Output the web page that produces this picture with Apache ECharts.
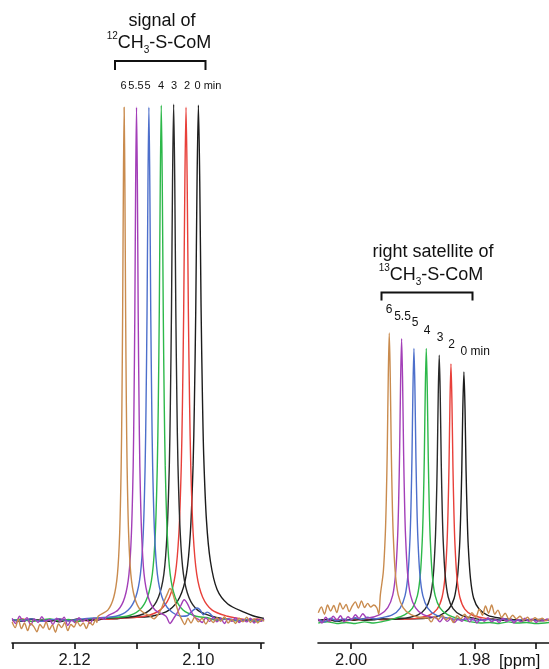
<!DOCTYPE html>
<html>
<head>
<meta charset="utf-8">
<script src="https://cdn.jsdelivr.net/npm/echarts@6/dist/echarts.min.js"></script>
<style>
html,body{margin:0;padding:0;background:#fff;}
#c{width:549px;height:669px;}
</style>
</head>
<body>
<div id="c"></div>
<script>
// ---- tick labels ----
const leftTicks = [2.13, 2.12, 2.11, 2.10, 2.09];
const leftTickLabels = [2.12, 2.10];
const rightTicks = [2.00, 1.99, 1.98, 1.97];
const rightTickLabels = [2.00, 1.98];
const timeLabels = ['6', '5.5', '5', '4', '3', '2', '0 min'];

// ---- left panel: 12CH3-S-CoM signal, [ppm, intensity] ----
const L_0min = [[2.1301,0.2],[2.1285,-0.2],[2.1270,0.3],[2.1255,-0.1],[2.1240,0.2],[2.1225,-0.3],[2.1210,0.1],[2.1195,-0.2],[2.1180,0.3],[2.1165,0.0],[2.1150,0.4],[2.1135,0.3],[2.1120,0.5],[2.1100,0.6],
 [2.10756,0.8],[2.10475,2.0],[2.10302,4.5],[2.10194,9.0],[2.1013,17.0],[2.10086,30.1],[2.10065,42.1],[2.10043,60.1],[2.10022,85.2],[2.1000,100.2],
 [2.09978,85.2],[2.09957,61.0],[2.09935,43.5],[2.09914,32.0],[2.0987,19.5],[2.09806,11.5],[2.09698,6.0],[2.09525,3.2],[2.09244,1.5],[2.0912,0.9],[2.0903,0.6],[2.0894,0.4]];
const L_2min = [[2.1301,-0.1],[2.1285,0.3],[2.1270,-0.2],[2.1255,0.2],[2.1240,-0.1],[2.1225,0.3],[2.1210,0.0],[2.1195,0.2],[2.1180,-0.1],[2.1165,0.3],[2.1150,0.2],[2.1130,0.4],
 [2.10872,0.8],[2.10622,2.0],[2.10469,4.5],[2.10373,9.0],[2.10315,17.0],[2.10277,29.9],[2.10258,41.9],[2.10238,59.9],[2.10219,84.8],[2.1020,99.8],
 [2.10181,84.8],[2.10162,59.9],[2.10142,41.9],[2.10123,29.9],[2.10085,17.0],[2.10027,9.0],[2.09931,4.5],[2.09778,2.0],[2.09528,0.8],[2.0935,0.4],[2.0920,0.1],[2.0905,0.3],[2.0894,0.0]];
const L_3min = [[2.1301,0.1],[2.1285,-0.2],[2.1270,0.2],[2.1255,0.0],[2.1240,-0.2],[2.1225,0.2],[2.1210,-0.1],[2.1195,0.3],[2.1180,0.0],[2.1165,0.2],[2.1150,0.4],
 [2.11016,0.8],[2.10787,2.0],[2.10646,4.5],[2.10558,9.0],[2.10506,17.1],[2.1047,30.1],[2.10453,42.2],[2.10435,60.2],[2.10418,85.3],[2.1040,100.4],
 [2.10382,85.3],[2.10365,60.2],[2.10347,42.2],[2.1033,30.1],[2.10294,17.1],[2.10242,9.0],[2.10154,4.5],[2.10013,2.0],[2.09784,0.8],[2.0960,0.3],[2.0945,0.1],[2.0930,-0.1],[2.0915,0.2],[2.0900,0.0],[2.0894,0.1]];
const L_4min = [[2.1301,0.0],[2.1285,0.2],[2.1270,-0.2],[2.1255,0.1],[2.1240,0.3],[2.1225,-0.1],[2.1210,0.2],[2.1195,-0.2],[2.1180,0.3],[2.1165,0.4],
 [2.1116,0.8],[2.10952,2.0],[2.10824,4.5],[2.10744,9.0],[2.10696,17.0],[2.10664,30.1],[2.10648,42.1],[2.10632,60.1],[2.10616,85.2],[2.1060,100.2],
 [2.10584,85.2],[2.10568,60.1],[2.10552,42.1],[2.10536,30.1],[2.10504,17.0],[2.10456,9.0],[2.10376,4.5],[2.10248,2.0],[2.1004,0.8],[2.0985,0.5],[2.0970,0.0],[2.0955,0.3],[2.0940,-0.1],[2.0925,0.2],[2.0910,-0.2],[2.0894,0.1]];
const L_5min = [[2.1301,0.2],[2.1285,-0.1],[2.1270,0.3],[2.1255,-0.2],[2.1240,0.1],[2.1225,0.3],[2.1210,-0.1],[2.1195,0.2],[2.1180,0.4],
 [2.11332,0.8],[2.11134,2.0],[2.11013,4.5],[2.10937,9.0],[2.10891,17.0],[2.10861,29.9],[2.10846,41.9],[2.1083,59.9],[2.10815,84.8],[2.1080,99.8],
 [2.10785,84.8],[2.1077,59.9],[2.10754,41.9],[2.10739,29.9],[2.10709,17.0],[2.10663,9.0],[2.10587,4.5],[2.10466,2.0],[2.10268,0.8],[2.1018,0.9],[2.1012,1.6],[2.1006,2.2],[2.1002,2.4],[2.0997,2.0],[2.0992,1.1],[2.0986,1.6],[2.0981,1.3],[2.0975,0.5],[2.0965,0.1],[2.0950,0.3],[2.0935,-0.1],[2.0920,0.2],[2.0905,0.0],[2.0894,0.2]];
const L_55min = [[2.1301,0.4],[2.1295,-0.6],[2.1289,0.8],[2.1283,-0.2],[2.1277,0.5],[2.1271,-0.9],[2.1265,0.3],[2.1259,-0.4],[2.1253,0.7],[2.1247,-0.3],[2.1241,0.2],[2.1235,-0.8],[2.1229,0.4],[2.1223,-0.2],[2.1217,0.6],[2.1211,-1.0],[2.1205,0.1],[2.1199,-0.5],[2.1193,0.5],[2.1187,-0.2],[2.1181,0.3],[2.1175,-0.6],[2.1169,0.4],[2.1163,0.1],[2.1157,0.5],[2.1152,0.2],
 [2.11476,0.8],[2.11299,2.0],[2.1119,4.5],[2.11122,9.0],[2.11082,17.0],[2.11054,29.9],[2.11041,41.9],[2.11027,59.9],[2.11014,84.8],[2.1100,99.8],
 [2.10986,84.8],[2.10973,59.9],[2.10959,41.9],[2.10946,29.9],[2.10918,17.0],[2.10878,9.0],[2.1081,4.5],[2.10701,2.0],[2.10524,0.8],[2.1046,-0.6],[2.1040,0.4],[2.1034,1.5],[2.1028,3.0],[2.1023,4.0],[2.1018,3.3],[2.1012,1.8],[2.1006,0.6],[2.1000,0.2],[2.0994,-0.4],[2.0988,0.5],[2.0982,-0.2],[2.0976,0.6],[2.0970,-0.3],[2.0964,0.4],[2.0958,-0.6],[2.0952,0.3],[2.0946,-0.2],[2.0940,0.5],[2.0934,-0.4],[2.0928,0.2],[2.0922,-0.3],[2.0916,0.4],[2.0910,-0.5],[2.0904,0.2],[2.0898,-0.2],[2.0894,0.3]];
const L_6min = [[2.1301,-0.3],[2.1296,-1.4],[2.1291,0.2],[2.1286,-1.6],[2.1281,-0.5],[2.1276,-2.0],[2.1271,-0.6],[2.1266,-1.2],[2.1261,-2.2],[2.1256,-0.8],[2.1251,-1.5],[2.1246,-0.3],[2.1241,-1.8],[2.1236,-0.9],[2.1231,-2.3],[2.1226,-0.7],[2.1221,-1.4],[2.1216,-0.4],[2.1211,-2.0],[2.1206,-0.8],[2.1201,-1.3],[2.1196,-0.2],[2.1191,-1.1],[2.1186,-0.5],[2.1181,-1.6],[2.1176,-0.3],[2.1171,-0.9],[2.1166,0.2],[2.1164,-0.4],
 [2.11620,0.8],[2.11464,2.0],[2.11368,4.5],[2.11308,9.0],[2.11272,17.0],[2.11248,29.9],[2.11236,41.9],[2.11224,59.9],[2.11212,84.8],[2.1120,99.8],
 [2.11188,84.8],[2.11176,59.9],[2.11164,41.9],[2.11152,29.9],[2.11128,17.0],[2.11092,9.0],[2.11032,4.5],[2.10936,2.0],[2.1078,0.8],[2.1072,0.3],[2.1066,1.0],[2.1060,2.2],[2.1055,3.8],[2.1050,5.2],[2.1046,6.2],[2.1042,5.4],[2.1037,3.4],[2.1032,1.5],[2.1027,0.2],[2.1022,-0.8],[2.1017,0.4],[2.1012,-0.5],[2.1006,0.6],[2.1000,-0.3],[2.0994,0.4],[2.0988,-0.7],[2.0982,0.3],[2.0976,-0.4],[2.0970,0.5],[2.0964,-0.2],[2.0958,0.7],[2.0952,-0.5],[2.0946,0.2],[2.0940,-0.6],[2.0934,0.4],[2.0928,-0.3],[2.0922,0.6],[2.0916,-0.4],[2.0910,0.3],[2.0904,-0.5],[2.0898,0.2],[2.0894,-0.2]];

// ---- right panel: right 13C satellite, [ppm, intensity] ----
const R_0min = [[2.0053,0.0],[2.0040,0.2],[2.0025,-0.1],[2.0010,0.2],[1.9995,0.0],[1.9980,0.3],[1.9965,0.1],[1.9950,0.3],[1.9935,0.2],[1.9920,0.4],[1.9905,0.3],
 [1.98786,0.39],[1.98557,0.97],[1.98416,2.2],[1.98328,4.3],[1.98276,8.2],[1.9824,14.5],[1.98223,20.3],[1.98205,29.0],[1.98188,41.1],[1.9817,48.3],
 [1.98152,41.1],[1.98135,29.0],[1.98117,20.3],[1.981,14.5],[1.98064,8.2],[1.98012,4.3],[1.97924,2.2],[1.97783,0.97],[1.97554,0.39],[1.9740,0.2],[1.9725,0.0],[1.9710,0.2],[1.9695,-0.1],[1.9679,0.1]];
const R_2min = [[2.0053,0.1],[2.0038,-0.2],[2.0023,0.2],[2.0008,-0.1],[1.9993,0.2],[1.9978,0.0],[1.9963,0.3],[1.9948,0.1],[1.9933,0.3],[1.9918,0.2],
 [1.9894,0.4],[1.98732,1.0],[1.98604,2.2],[1.98524,4.5],[1.98476,8.5],[1.98444,15.0],[1.98428,21.0],[1.98412,29.9],[1.98396,42.4],[1.9838,49.9],
 [1.98364,42.4],[1.98348,29.9],[1.98332,21.0],[1.98316,15.0],[1.98284,8.5],[1.98236,4.5],[1.98156,2.2],[1.98028,1.0],[1.9782,0.4],[1.9765,0.1],[1.9750,0.3],[1.9735,-0.1],[1.9720,0.2],[1.9705,0.0],[1.9690,0.2],[1.9679,0.0]];
const R_3min = [[2.0053,-0.1],[2.0038,0.2],[2.0023,-0.2],[2.0008,0.1],[1.9993,0.3],[1.9978,0.0],[1.9963,0.2],[1.9948,0.3],[1.9933,0.2],
 [1.9913,0.41],[1.98922,1.03],[1.98794,2.3],[1.98714,4.6],[1.98666,8.8],[1.98634,15.5],[1.98618,21.7],[1.98602,31.0],[1.98586,43.9],[1.9857,51.6],
 [1.98554,43.9],[1.98538,31.0],[1.98522,21.7],[1.98506,15.5],[1.98474,8.8],[1.98426,4.6],[1.98346,2.3],[1.98218,1.03],[1.9801,0.41],[1.9785,0.1],[1.9770,0.3],[1.9755,0.0],[1.9740,0.2],[1.9725,-0.1],[1.9710,0.1],[1.9695,0.2],[1.9679,0.0]];
const R_4min = [[2.0053,-0.5],[2.0038,-0.3],[2.0023,-0.6],[2.0008,-0.4],[1.9993,-0.6],[1.9978,-0.3],[1.9963,-0.5],[1.9948,-0.2],
 [1.9934,0.2],[1.99132,1.06],[1.99004,2.4],[1.98924,4.8],[1.98876,9.0],[1.98844,15.9],[1.98828,22.2],[1.98812,31.7],[1.98796,45.0],[1.9878,52.9],
 [1.98764,45.0],[1.98748,31.7],[1.98732,22.2],[1.98716,15.9],[1.98684,9.0],[1.98636,4.8],[1.98556,2.4],[1.98428,1.06],[1.9822,0.2],[1.9805,-0.3],[1.9790,-0.5],[1.9775,-0.4],[1.9760,-0.6],[1.9745,-0.3],[1.9730,-0.5],[1.9715,-0.4],[1.9700,-0.6],[1.9679,-0.4]];
const R_5min = [[2.0053,0.2],[2.0043,-0.3],[2.0033,0.4],[2.0023,-0.1],[2.0013,0.3],[2.0003,0.0],[1.9993,0.5],[1.9983,0.2],[1.9973,0.6],[1.9963,0.3],
 [1.9954,0.42],[1.99332,1.06],[1.99204,2.4],[1.99124,4.8],[1.99076,9.0],[1.99044,15.9],[1.99028,22.2],[1.99012,31.7],[1.98996,45.0],[1.9898,52.9],
 [1.98964,45.0],[1.98948,31.7],[1.98932,22.2],[1.98916,15.9],[1.98884,9.0],[1.98836,4.8],[1.98756,2.4],[1.98628,1.06],[1.9842,0.42],[1.9825,0.1],[1.9810,0.3],[1.9795,-0.1],[1.9780,0.2],[1.9765,0.0],[1.9750,0.3],[1.9735,-0.1],[1.9720,0.2],[1.9705,0.0],[1.9690,0.2],[1.9679,0.0]];
const R_55min = [[2.0053,0.3],[2.0047,-0.5],[2.0041,0.6],[2.0035,-0.2],[2.0029,0.8],[2.0023,0.1],[2.0017,0.9],[2.0011,-0.3],[2.0005,0.7],[1.9999,0.2],[1.9993,1.1],[1.9987,0.4],[1.9981,1.3],[1.9976,0.6],
 [1.9974,0.44],[1.99532,1.1],[1.99404,2.5],[1.99324,4.9],[1.99276,9.3],[1.99244,16.4],[1.99228,23.0],[1.99212,32.9],[1.99196,46.6],[1.9918,54.8],
 [1.99164,46.6],[1.99148,32.9],[1.99132,23.0],[1.99116,16.4],[1.99084,9.3],[1.99036,4.9],[1.98956,2.5],[1.98828,1.1],[1.9862,0.44],[1.9856,-0.3],[1.9850,0.5],[1.9844,-0.2],[1.9838,0.4],[1.9832,-0.4],[1.9826,0.3],[1.9820,-0.2],[1.9814,0.6],[1.9808,-0.3],[1.9802,0.4],[1.9796,-0.5],[1.9790,0.3],[1.9784,-0.2],[1.9778,0.5],[1.9772,-0.3],[1.9766,0.2],[1.9760,-0.4],[1.9754,0.4],[1.9748,-0.2],[1.9742,0.3],[1.9736,-0.5],[1.9730,0.2],[1.9724,-0.3],[1.9718,0.4],[1.9712,-0.2],[1.9706,0.3],[1.9700,-0.4],[1.9694,0.2],[1.9688,-0.1],[1.9682,0.3],[1.9679,0.0]];
const R_6min = [[2.0053,1.5],[2.0048,2.6],[2.0043,1.2],[2.0038,3.0],[2.0033,1.8],[2.0028,2.9],[2.0023,1.5],[2.0018,3.4],[2.0013,2.2],[2.0008,3.1],[2.0003,1.7],[1.9998,2.8],[1.9993,3.6],[1.9988,2.4],[1.9983,3.8],[1.9978,2.5],[1.9973,3.3],[1.9968,2.6],[1.9963,3.0],[1.9958,2.4],[1.9955,1.2],
 [1.99524,5.0],[1.99476,9.5],[1.99444,16.8],[1.99428,23.5],[1.99412,33.5],[1.99396,47.5],[1.9938,55.9],
 [1.99364,47.5],[1.99348,33.5],[1.99332,23.5],[1.99316,16.8],[1.99284,9.5],[1.99236,5.0],[1.99156,2.5],[1.99028,1.1],[1.9882,0.45],
 [1.9876,0.5],[1.9870,-0.3],[1.9864,0.8],[1.9858,0.2],[1.9852,1.0],[1.9846,0.1],[1.9840,0.6],[1.9834,-0.4],[1.9828,0.9],[1.9822,0.3],[1.9816,1.2],[1.9810,0.4],[1.9804,1.5],[1.9798,0.6],[1.9792,2.2],[1.9787,1.0],[1.9782,2.8],[1.9777,1.4],[1.9772,3.0],[1.9767,1.2],[1.9762,2.0],[1.9756,0.6],[1.9750,1.4],[1.9744,0.2],[1.9738,1.0],[1.9732,0.3],[1.9726,0.8],[1.9720,0.0],[1.9714,0.6],[1.9708,-0.2],[1.9702,0.5],[1.9696,0.1],[1.9690,0.4],[1.9684,-0.1],[1.9679,0.3]];

// ---- series (drawing order: 0 min first, 6 min on top) ----
const spectra = [
  {name: '0 min',   left: L_0min,  right: R_0min,  color: '#1c1c1c'},
  {name: '2 min',   left: L_2min,  right: R_2min,  color: '#e8403a'},
  {name: '3 min',   left: L_3min,  right: R_3min,  color: '#2a2a2a'},
  {name: '4 min',   left: L_4min,  right: R_4min,  color: '#2db84a'},
  {name: '5 min',   left: L_5min,  right: R_5min,  color: '#4d6fcb'},
  {name: '5.5 min', left: L_55min, right: R_55min, color: '#a33fb8'},
  {name: '6 min',   left: L_6min,  right: R_6min,  color: '#c98b4e'}
];

const chart = echarts.init(document.getElementById('c'), null, {renderer: 'canvas'});
const FONT = '"Liberation Sans", Arial, Helvetica, sans-serif';

function xAxisCfg(gridIndex, min, max, ticks, labels) {
  return {
    gridIndex, type: 'value', inverse: true, min, max,
    axisLine: {onZero: false, lineStyle: {color: '#111', width: 1.6}},
    axisTick: {show: true, inside: false, length: 6, customValues: ticks, lineStyle: {color: '#111', width: 1.6}},
    axisLabel: {customValues: labels, formatter: v => Number(v).toFixed(2), fontSize: 16.5, color: '#1a1a1a', margin: 9, fontFamily: FONT},
    splitLine: {show: false}
  };
}
function yAxisCfg(gridIndex) {
  return {gridIndex, type: 'value', min: -4.4, max: 102, show: false, splitLine: {show: false}};
}

const series = [];
spectra.forEach(s => {
  series.push({type: 'line', name: s.name, xAxisIndex: 0, yAxisIndex: 0, data: s.left, showSymbol: false, symbol: 'none',
    smooth: 0.3, lineStyle: {color: s.color, width: 1.4}, itemStyle: {color: s.color}, animation: false});
  series.push({type: 'line', name: s.name, xAxisIndex: 1, yAxisIndex: 1, data: s.right, showSymbol: false, symbol: 'none',
    smooth: 0.3, lineStyle: {color: s.color, width: 1.4}, itemStyle: {color: s.color}, animation: false});
});

const titleRich = {
  big: {fontSize: 18, lineHeight: 24, fontFamily: FONT, fill: '#111', color: '#111'},
  sup: {fontSize: 10, lineHeight: 15, verticalAlign: 'top', fontFamily: FONT, fill: '#111', color: '#111'},
  sub: {fontSize: 10, lineHeight: 8, verticalAlign: 'bottom', fontFamily: FONT, fill: '#111', color: '#111'}
};
function txt(x, y, text, size, align) {
  return {type: 'text', x, y, silent: true,
    style: {text, fontSize: size, fontFamily: FONT, fill: '#111', align: align || 'center', textAlign: align || 'center', verticalAlign: 'middle', textVerticalAlign: 'middle'}};
}
function richTxt(x, y, text) {
  return {type: 'text', x, y, silent: true,
    style: {text, rich: titleRich, fontSize: 18, fontFamily: FONT, fill: '#111', align: 'center', textAlign: 'center', verticalAlign: 'middle', textVerticalAlign: 'middle'}};
}
function bracket(x1, x2, yTop, yBot) {
  return {type: 'polyline', silent: true, shape: {points: [[x1, yBot], [x1, yTop], [x2, yTop], [x2, yBot]]},
    style: {stroke: '#111', lineWidth: 2, fill: null}};
}

const leftLabelPos = [[123.5, 86], [136, 86], [147.5, 86], [161, 86], [174, 86], [187, 86], [194.5, 86]];
const rightLabelPos = [[389, 310], [402.5, 316.5], [415, 323], [427, 331], [440, 338], [451.5, 345], [460.5, 352]];

const graphics = [
  txt(162, 21, 'signal of', 18),
  richTxt(159, 43, '{sup|12}{big|CH}{sub|3}{big|-S-CoM}'),
  bracket(115, 205.5, 61, 70),
  txt(433, 252, 'right satellite of', 18),
  richTxt(431, 275, '{sup|13}{big|CH}{sub|3}{big|-S-CoM}'),
  bracket(381.5, 472.5, 292.5, 300.5),
  txt(499, 661.5, '[ppm]', 16.5, 'left')
];
timeLabels.forEach((t, i) => {
  const last = i === timeLabels.length - 1;
  graphics.push(txt(leftLabelPos[i][0], leftLabelPos[i][1], t, 11, last ? 'left' : 'center'));
  graphics.push(txt(rightLabelPos[i][0], rightLabelPos[i][1], t, 12, last ? 'left' : 'center'));
});

chart.setOption({
  animation: false,
  backgroundColor: '#fff',
  grid: [
    {left: 12, top: 96, width: 252, height: 547},
    {left: 318, top: 96, width: 231, height: 547}
  ],
  xAxis: [
    xAxisCfg(0, 2.0894, 2.13012, leftTicks, leftTickLabels),
    xAxisCfg(1, 1.96791, 2.00535, rightTicks, rightTickLabels)
  ],
  yAxis: [yAxisCfg(0), yAxisCfg(1)],
  series,
  graphic: {elements: graphics}
});
</script>
</body>
</html>
